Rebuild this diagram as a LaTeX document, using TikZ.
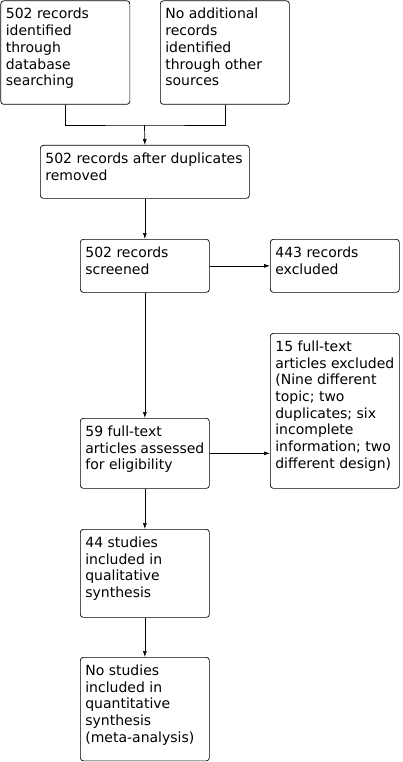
\documentclass[tikz,border=0pt]{standalone}
\usepackage{fontspec}
\setmainfont{DejaVu Sans}
\usetikzlibrary{arrows.meta}

\tikzset{
  flowbox/.style={draw, rounded corners=3pt, anchor=north west, inner xsep=5pt, inner ysep=4pt, align=left, line width=0.7pt},
  flowarrow/.style={-{Latex[length=6pt,width=4pt]}, line width=0.7pt}
}
% box text: width, height, lines
\newcommand{\boxtext}[3]{\parbox[c][#2][t]{#1}{\fontsize{14}{16.7}\selectfont\vspace*{3.5pt}#3}}

\begin{document}
\begin{tikzpicture}[x=1pt,y=-1pt]
  \useasboundingbox (0,0) rectangle (402,762);
  % identification
  \node[flowbox] (ident) at (0.5,0.5) {\boxtext{119pt}{95.5pt}{502 records\\identified\\through\\database\\searching}};
  \node[flowbox] (other) at (160,0.5) {\boxtext{119pt}{95.5pt}{No additional\\records\\identified\\through other\\sources}};
  \coordinate (join) at (144.5,125);
  \node[flowbox] (dedup) at (40,145) {\boxtext{199pt}{45pt}{502 records after duplicates\\removed}};
  % screening
  \node[flowbox] (screened) at (80,239) {\boxtext{119pt}{45pt}{502 records\\screened}};
  \node[flowbox] (excluded) at (270,239) {\boxtext{119pt}{45pt}{443 records\\excluded}};
  % eligibility
  \node[flowbox] (fulltext) at (270,333) {\boxtext{119pt}{147pt}{15 full-text\\articles excluded\\(Nine different\\topic; two\\duplicates; six\\incomplete\\information; two\\different design)}};
  \node[flowbox] (elig) at (80,418) {\boxtext{119pt}{62pt}{59 full-text\\articles assessed\\for eligibility}};
  % included
  \node[flowbox] (incl) at (80,529) {\boxtext{119pt}{80pt}{44 studies\\included in\\qualitative\\synthesis}};
  \node[flowbox] (meta) at (80,657) {\boxtext{119pt}{95.5pt}{No studies\\included in\\quantitative\\synthesis\\(meta-analysis)}};

  \draw[line width=0.7pt] (ident.south) |- (join) -| (other.south);
  \draw[flowarrow] (join) -- (dedup.north);
  \draw[flowarrow] (dedup.south) -- (screened.north);
  \draw[flowarrow] (screened.east) -- (excluded.west);
  \draw[flowarrow] (screened.south) -- (elig.north);
  \draw[flowarrow] (elig.east) -- (elig.east -| fulltext.west);
  \draw[flowarrow] (elig.south) -- (incl.north);
  \draw[flowarrow] (incl.south) -- (meta.north);
\end{tikzpicture}
\end{document}
